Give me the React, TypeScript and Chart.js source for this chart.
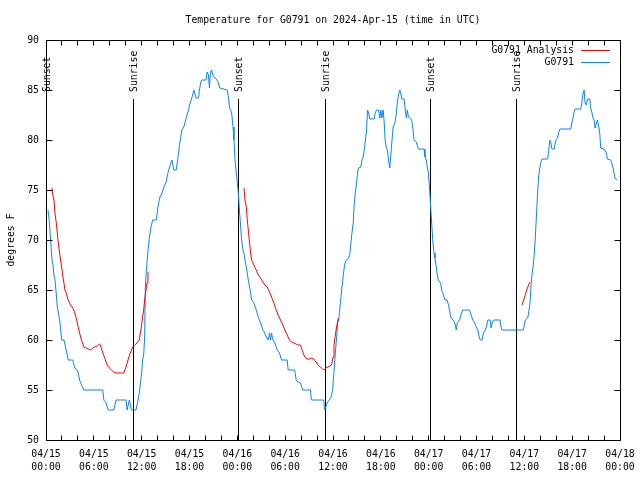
import React, { useEffect, useRef } from 'react';
import { Chart, registerables } from 'chart.js';

Chart.register(...registerables);

const TITLE = 'Temperature for G0791 on 2024-Apr-15 (time in UTC)';
const Y_TITLE = 'degrees F';
const DATE_LABELS = ['04/15', '04/15', '04/15', '04/15', '04/16', '04/16', '04/16', '04/16', '04/17', '04/17', '04/17', '04/17', '04/18'];
const TIME_LABELS = ['00:00', '06:00', '12:00', '18:00', '00:00', '06:00', '12:00', '18:00', '00:00', '06:00', '12:00', '18:00', '00:00'];
const SUNSET_HOURS = [0.03, 24.12, 48.2];
const SUNRISE_HOURS = [10.95, 35.05, 59.0];
const SUN_LINE_TOP = 84.1;

const ANALYSIS_LABEL = 'G0791 Analysis';
const SENSOR_LABEL = 'G0791';

// hours since 04/15 00:00 UTC
const sensorHours = [
  0.25, 0.4, 0.58, 0.75, 0.875, 1.0, 1.125, 1.3, 1.42, 1.6, 1.71, 1.85, 1.96, 2.25, 2.4, 2.54, 2.79, 3.375, 3.5, 3.625, 3.92, 4.1, 4.21, 4.46, 4.75,
  7.125, 7.25, 7.54, 7.79, 8.5, 8.79, 10.04, 10.17, 10.46, 10.71, 11.29, 11.54, 11.7, 11.85, 12.0, 12.125, 12.25, 12.375, 12.46, 12.58, 12.79, 12.96, 13.17, 13.375, 13.83,
  14.04, 14.25, 14.54, 14.79, 15.08, 15.29, 15.5, 15.79, 16.04, 16.33, 16.46, 16.75, 17.04, 17.29, 17.58, 17.875, 18.04, 18.29, 18.54, 18.83,
  19.125, 19.25, 19.42, 19.54, 20.08, 20.21, 20.375, 20.5, 20.625, 20.79, 20.92, 21.2, 21.46, 21.625, 21.79, 22.75, 22.875, 23.04, 23.29, 23.46,
  23.58, 23.71, 23.875, 24.0, 24.125, 24.29, 24.42, 24.54, 24.71, 24.83, 24.96, 25.125, 25.25, 25.375, 25.54, 25.67, 25.79, 26.08, 26.375, 26.625,
  26.92, 27.2, 27.4, 27.625, 27.875, 28.04, 28.17, 28.29, 28.46, 28.71, 29.0, 29.29, 29.54, 30.25, 30.375, 31.2, 31.375, 31.6, 31.92, 32.2,
  33.17, 33.29, 34.83, 34.96, 35.1, 35.25, 35.54, 35.75, 35.96, 36.04, 36.17, 36.29, 36.46, 36.58, 36.71, 36.875, 37.0, 37.125, 37.29, 37.42,
  37.54, 37.71, 37.96, 38.125, 38.25, 38.375, 38.54, 38.67, 38.79, 38.96, 39.08, 39.2, 39.5, 39.625, 39.79, 39.92, 40.04, 40.21, 40.33, 40.46,
  40.625, 41.17, 41.29, 41.46, 41.71, 41.875, 42.0, 42.125, 42.29, 42.42, 42.54, 42.71, 42.83, 42.96, 43.125, 43.25, 43.375, 43.54, 43.79, 43.96,
  44.08, 44.21, 44.375, 44.5, 44.625, 44.92, 45.04, 45.2, 45.33, 45.46, 45.625, 45.875, 46.04, 46.17, 46.46, 46.71, 47.42, 47.54, 47.71, 47.83,
  47.96, 48.125, 48.25, 48.375, 48.54, 48.67, 48.79, 48.96, 49.08, 49.2, 49.5, 49.625, 49.79, 50.04, 50.33, 50.625, 50.75, 51.04, 51.29, 51.46,
  51.58, 51.875, 52.125, 52.29, 53.125, 53.25, 53.54, 53.79, 53.96, 54.17, 54.29, 54.46, 54.71, 54.875, 55.125, 55.29, 55.42, 55.71, 55.83, 55.96,
  56.125, 56.96, 57.08, 57.2, 59.875, 60.0, 60.125, 60.42, 60.54, 60.71, 60.83, 60.96, 61.125, 61.25, 61.375, 61.54, 61.67, 61.79, 61.96, 62.08,
  62.21, 62.92, 63.04, 63.21, 63.33, 63.46, 63.75, 63.875, 64.04, 64.17, 64.29, 64.46, 65.83, 65.96, 66.125, 66.25, 66.375, 67.08, 67.2, 67.375,
  67.5, 67.625, 67.79, 67.92, 68.21, 68.33, 68.46, 68.625, 68.75, 68.875, 69.04, 69.17, 69.29, 69.46, 69.58, 70.0, 70.29, 70.42, 70.83, 70.96,
  71.125, 71.25, 71.375, 71.67,
];
const sensorTemps = [
  73, 72, 70, 68, 67.5, 66.5, 66, 64.5, 63.3, 62.5, 62, 61, 60, 60, 59.5, 59, 58, 58, 57.5, 57.2, 57, 56.5, 56, 55.5, 55,
  55, 54, 53.7, 53, 53, 54, 54, 53, 54, 53, 53, 54, 54.7, 55.7, 56.7, 58, 58.5, 60.3, 65.3, 66.9, 68.9, 70.2, 71.3, 72, 72,
  73.3, 74.2, 74.7, 75.3, 75.8, 76.7, 77.3, 78, 77, 77, 77.7, 79.5, 81, 81.3, 82.2, 83, 83.6, 84.2, 85, 84.2,
  84.2, 85, 85.8, 86, 86, 86.8, 86.5, 85.2, 86.8, 87, 86.5, 86.2, 86, 85.7, 85.2, 85, 84.3, 83.2, 82.7, 81.3,
  80, 78, 76.7, 75.7, 74.7, 72.7, 71.3, 70, 69, 68.7, 68, 67.3, 66.7, 66, 65.3, 64.7, 64, 63.7, 63, 62.3,
  61.7, 61, 60.8, 60.3, 60, 60.7, 60, 60.7, 60, 59.7, 59, 58.7, 58, 58, 57, 57, 56, 55.8, 55.7, 55,
  55, 54, 54, 53, 53.3, 53.7, 54, 54.3, 55, 56, 57.3, 58.7, 60.3, 61.7, 62, 63.3, 64.3, 65.3, 66.5, 67.3,
  67.8, 68, 68.2, 68.7, 69.7, 70.7, 71.7, 73.7, 74.7, 75.7, 76.7, 77.2, 77.3, 78, 78.3, 79, 79.8, 81, 83, 82.7,
  82.1, 82.1, 82.7, 83, 83, 82.2, 83, 82.2, 83, 81.8, 80, 79.1, 79, 78, 77.2, 78.5, 79.7, 81.3, 81.8, 82.8,
  83.8, 84.5, 85, 84.7, 84.1, 84.1, 83.2, 82.2, 83, 82.3, 82.2, 82, 81, 80, 79.8, 79.1, 79.1, 78.3, 78, 77.3,
  76.7, 75, 73.3, 71.7, 69.7, 68.7, 68.2, 67.3, 66.5, 66, 65.7, 65, 64.7, 64, 64, 63, 62.3, 62, 61.7, 61,
  61.7, 62, 62.7, 63, 63, 62.7, 62, 61.7, 61.3, 61, 60.5, 60, 60, 60.7, 61, 61.5, 62, 62, 61.2, 61.7,
  62, 62, 61.3, 61, 61, 61.5, 62, 62.2, 62.7, 63.7, 65.3, 66.5, 67.5, 68.7, 70.2, 72.8, 74.8, 76.3, 77.3, 77.8,
  78.1, 78.1, 78.8, 80, 79.7, 79.1, 79.1, 79.7, 80.1, 80.2, 80.7, 81.1, 81.1, 81.7, 82.3, 82.8, 83.1, 83.1, 83.7, 84.7,
  85, 83.7, 83.5, 84.1, 84.1, 83.2, 82.8, 82.2, 82, 81.2, 81.7, 82, 81.5, 80.7, 79.2, 79.1, 78.7, 78.1, 78, 77.7,
  77.2, 76.7, 76.2, 76,
];

// analysis series: null marks a gap
const analysisHours = [
  0.75, 0.85, 1.0, 1.125, 1.29, 1.42, 1.54, 1.71, 1.83, 1.96, 2.125, 2.25, 2.375, 2.54, 2.67, 2.79, 3.08, 3.375, 3.625, 3.79,
  3.92, 4.21, 4.46, 4.75, 5.04, 5.29, 5.58, 5.875, 6.125, 6.42, 6.71, 6.83, 7.125, 7.375, 7.67, 7.96, 8.21, 8.5, 8.79, 9.75,
  10.04, 10.29, 10.58, 10.875, 11.125, 11.42, 11.71, 11.83, 11.96, 12.125, 12.25, 12.375, 12.54, 12.67, 12.79,
  18,
  24.83, 24.96, 25.125, 25.25, 25.375, 25.54, 25.67, 25.79, 26.08, 26.375, 26.625, 26.92, 27.2, 27.46, 27.75, 28.04, 28.29, 28.58, 28.875, 29.125,
  29.42, 29.71, 29.96, 30.25, 30.54, 30.79, 31.08, 31.375, 31.625, 31.92, 32.21, 32.46, 32.75, 33.04, 33.29, 33.58, 33.875, 34.125, 34.42, 34.71,
  34.85, 35.125, 35.375, 35.67, 35.84, 36.0, 36.125, 36.33, 36.5, 36.67,
  48,
  59.71, 60.0, 60.29, 60.54, 60.71,
];
const analysisTemps = [
  75.2, 74.5, 74, 72.7, 71.7, 70.7, 69.7, 68.7, 68, 67.3, 66.3, 65.7, 65, 64.7, 64.3, 64, 63.5, 63.2, 62.7, 62.2,
  61.7, 60.7, 60, 59.3, 59.2, 59.1, 59, 59.2, 59.3, 59.4, 59.6, 59.5, 58.7, 58.2, 57.5, 57.2, 57, 56.8, 56.7, 56.7,
  57.3, 58, 58.7, 59.3, 59.5, 59.7, 60, 60.7, 61.3, 62.3, 63, 64, 65, 65.7, 66.8,
  null,
  75.2, 74, 73.3, 72, 71, 69.7, 68.7, 68, 67.5, 67, 66.5, 66.2, 65.8, 65.5, 65.3, 64.8, 64.3, 63.7, 63, 62.5,
  62, 61.5, 61, 60.5, 60, 59.8, 59.7, 59.6, 59.5, 59.5, 58.8, 58.3, 58.1, 58.1, 58.2, 58.1, 57.8, 57.5, 57.3, 57.1,
  57, 57.2, 57.3, 57.4, 57.6, 58.3, 59.5, 60.7, 61.5, 62.2,
  null,
  63.5, 64.2, 65, 65.5, 65.8,
];

const FONT_FAMILY = '"DejaVu Sans Mono", monospace';
const FONT_SIZE = 9.8;
const FONT = `${FONT_SIZE}px ${FONT_FAMILY}`;
const RED = '#ff0000';
const BLUE = '#0a84ff';
const MINOR_TICK_STEP = 2;
const TICK_LEN = 5;

const toPoints = (xs: number[], ys: (number | null)[]) => xs.map((h, i) => ({ x: h, y: ys[i] }));

const framePlugin = {
  id: 'gnuFrame',
  beforeDatasetsDraw(chart: any) {
    const { ctx, chartArea: a, scales } = chart;
    const x = scales.x;
    const y = scales.y;
    const yTop = y.getPixelForValue(SUN_LINE_TOP);
    ctx.save();
    ctx.strokeStyle = '#000';
    ctx.lineWidth = 1;
    ctx.fillStyle = '#000';
    ctx.font = FONT;
    const marks: [number, string][] = [
      ...SUNSET_HOURS.map((h) => [h, 'Sunset'] as [number, string]),
      ...SUNRISE_HOURS.map((h) => [h, 'Sunrise'] as [number, string]),
    ];
    marks.forEach(([h, label]) => {
      const px = Math.floor(x.getPixelForValue(h)) + 0.5;
      ctx.beginPath();
      ctx.moveTo(px, yTop);
      ctx.lineTo(px, a.bottom);
      ctx.stroke();
      ctx.save();
      ctx.translate(px + 1, yTop - 7);
      ctx.rotate(-Math.PI / 2);
      ctx.textAlign = 'left';
      ctx.textBaseline = 'middle';
      ctx.fillText(label, 0, 0);
      ctx.restore();
    });
    ctx.restore();
  },
  afterDraw(chart: any) {
    const { ctx, chartArea: a, scales } = chart;
    const x = scales.x;
    const y = scales.y;
    const L = Math.floor(a.left) + 0.5;
    const R = Math.floor(a.right) + 0.5;
    const T = Math.floor(a.top) + 0.5;
    const B = Math.floor(a.bottom) + 0.5;
    ctx.save();
    ctx.strokeStyle = '#000';
    ctx.lineWidth = 1;
    ctx.beginPath();
    ctx.rect(L, T, R - L, B - T);
    ctx.stroke();
    ctx.beginPath();
    y.ticks.forEach((t: any) => {
      const py = Math.floor(y.getPixelForValue(t.value)) + 0.5;
      ctx.moveTo(L, py);
      ctx.lineTo(L + TICK_LEN + 1, py);
      ctx.moveTo(R, py);
      ctx.lineTo(R - TICK_LEN - 1, py);
    });
    for (let h = x.min; h <= x.max; h += MINOR_TICK_STEP) {
      const px = Math.floor(x.getPixelForValue(h)) + 0.5;
      ctx.moveTo(px, B);
      ctx.lineTo(px, B - TICK_LEN);
      ctx.moveTo(px, T);
      ctx.lineTo(px, T + TICK_LEN);
    }
    ctx.stroke();

    // legend (gnuplot style: text right-aligned, sample line to the right)
    ctx.font = FONT;
    ctx.textAlign = 'right';
    ctx.textBaseline = 'middle';
    chart.data.datasets.forEach((ds: any, i: number) => {
      const ly = a.top + 10 + i * 12;
      ctx.fillStyle = '#000';
      ctx.fillText(ds.label, a.right - 46, ly);
      ctx.strokeStyle = ds.borderColor;
      ctx.beginPath();
      ctx.moveTo(a.right - 39, Math.floor(ly) + 0.5);
      ctx.lineTo(a.right - 10, Math.floor(ly) + 0.5);
      ctx.stroke();
    });
    ctx.restore();
  },
};

export default function App() {
  const ref = useRef<HTMLCanvasElement | null>(null);

  useEffect(() => {
    if (!ref.current) return;
    const chart = new Chart(ref.current, {
      type: 'line',
      data: {
        datasets: [
          {
            label: ANALYSIS_LABEL,
            data: toPoints(analysisHours, analysisTemps) as any,
            borderColor: RED,
            backgroundColor: RED,
            borderWidth: 1,
            pointRadius: 0,
            tension: 0,
            spanGaps: false,
          },
          {
            label: SENSOR_LABEL,
            data: toPoints(sensorHours, sensorTemps) as any,
            borderColor: BLUE,
            backgroundColor: BLUE,
            borderWidth: 1,
            pointRadius: 0,
            tension: 0,
          },
        ],
      },
      options: {
        responsive: false,
        animation: false,
        events: [],
        layout: { padding: { left: 0, right: 20, top: 0, bottom: 0 } },
        plugins: {
          legend: { display: false },
          tooltip: { enabled: false },
          title: {
            display: true,
            text: TITLE,
            fullSize: false,
            color: '#000',
            font: { family: FONT_FAMILY, size: FONT_SIZE, weight: 'normal', lineHeight: '12px' } as any,
            padding: { top: 14, bottom: 14 },
          },
        },
        scales: {
          x: {
            type: 'linear',
            min: 0,
            max: 72,
            grid: { display: false, drawTicks: false },
            border: { display: false },
            ticks: {
              stepSize: 6,
              autoSkip: false,
              maxRotation: 0,
              padding: 7.5,
              color: '#000',
              font: { family: FONT_FAMILY, size: FONT_SIZE, lineHeight: '13px' } as any,
              callback: (v: any) => {
                const i = Math.round(Number(v) / 6);
                return [DATE_LABELS[i], TIME_LABELS[i]];
              },
            },
            afterFit: (s: any) => {
              s.height = 40;
              s.paddingLeft = 0;
              s.paddingRight = 0;
            },
          },
          y: {
            type: 'linear',
            min: 50,
            max: 90,
            grid: { display: false, drawTicks: false },
            border: { display: false },
            ticks: {
              stepSize: 5,
              padding: 7,
              color: '#000',
              font: { family: FONT_FAMILY, size: FONT_SIZE },
            },
            title: {
              display: true,
              text: Y_TITLE,
              color: '#000',
              font: { family: FONT_FAMILY, size: FONT_SIZE, lineHeight: '12px' } as any,
              padding: { top: 5, bottom: 0 },
            },
            afterFit: (s: any) => {
              s.width = 46;
              s.paddingTop = 0;
              s.paddingBottom = 0;
            },
          },
        },
      },
      plugins: [framePlugin],
    });
    return () => chart.destroy();
  }, []);

  return (
    <div style={{ position: 'absolute', left: 0, top: 0, width: 640, height: 480, background: '#fff' }}>
      <canvas ref={ref} width={640} height={480} style={{ display: 'block' }} />
    </div>
  );
}
